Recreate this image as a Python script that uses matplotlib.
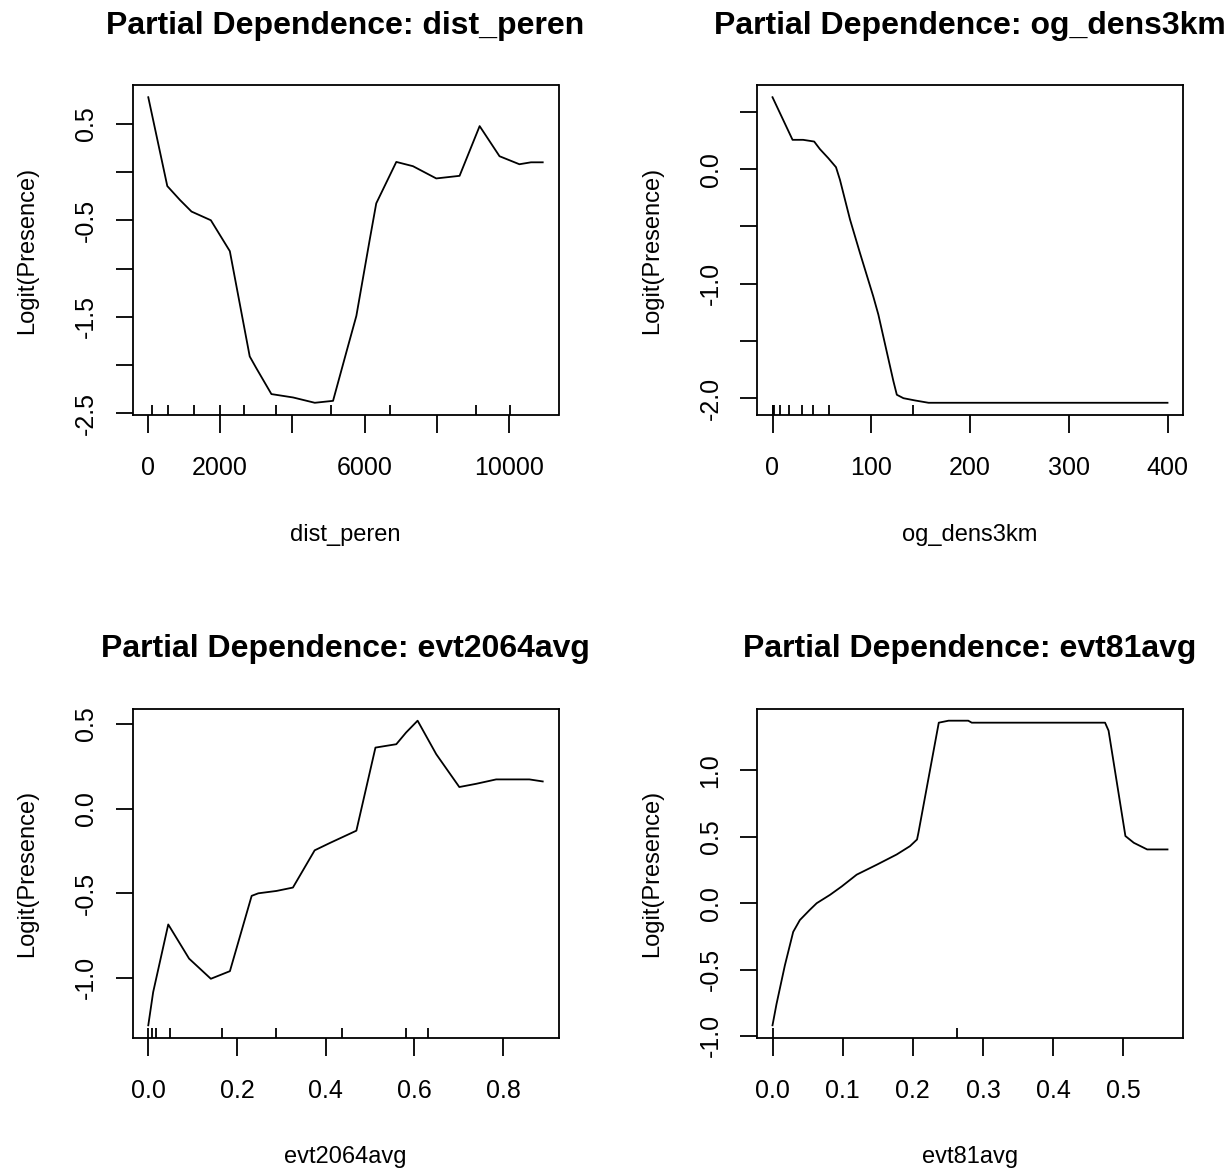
import matplotlib
matplotlib.use("Agg")
import matplotlib.pyplot as plt
import numpy as np

plt.rcParams['font.family'] = ['Liberation Sans', 'DejaVu Sans']
plt.rcParams['axes.unicode_minus'] = False

# ---- data ----
dist_x = [14, 540, 890, 1210, 1745, 2270, 2820, 3000, 3420, 4020, 4620, 5125,
          5490, 5770, 6140, 6320, 6875, 7335, 7980, 8625, 9180, 9730, 10280, 10600, 10925]
dist_y = [0.774, -0.146, -0.29, -0.41, -0.50, -0.82, -1.91, -2.03, -2.30, -2.335, -2.39, -2.37,
          -1.87, -1.49, -0.70, -0.325, 0.104, 0.06, -0.067, -0.04, 0.475, 0.163, 0.08, 0.10, 0.10]
dist_rug = [124, 550, 1276, 1994, 2666, 3560, 5080, 6690, 9085, 10025]
dist_xticks = [0, 2000, 4000, 6000, 8000, 10000]
dist_xlabels = ['0', '2000', '', '6000', '', '10000']
dist_yticks = [-2.5, -2.0, -1.5, -1.0, -0.5, 0.0, 0.5]
dist_ylabels = ['-2.5', '', '-1.5', '', '-0.5', '', '0.5']

og_x = [0, 20.3, 31, 42.2, 48, 56.5, 64.3, 68.3, 78.5, 88.6, 102, 107.2, 122.4, 125.9,
        132.6, 144.5, 158, 400]
og_y = [0.628, 0.256, 0.256, 0.241, 0.175, 0.096, 0.017, -0.093, -0.44, -0.733, -1.11,
        -1.27, -1.85, -1.97, -2.0, -2.02, -2.04, -2.04]
og_rug = [0, 1, 2, 8, 16.5, 30, 40.6, 57, 142]
og_xticks = [0, 100, 200, 300, 400]
og_xlabels = ['0', '100', '200', '300', '400']
og_yticks = [-2.0, -1.5, -1.0, -0.5, 0.0, 0.5]
og_ylabels = ['-2.0', '', '-1.0', '', '0.0', '']

e20_x = [0.0, 0.011, 0.045, 0.092, 0.141, 0.184, 0.233, 0.248, 0.289, 0.326, 0.375, 0.409,
         0.469, 0.512, 0.559, 0.581, 0.607, 0.649, 0.701, 0.739, 0.784, 0.859, 0.889]
e20_y = [-1.28, -1.084, -0.684, -0.886, -1.005, -0.96, -0.515, -0.50, -0.486, -0.466, -0.246,
         -0.203, -0.13, 0.361, 0.381, 0.45, 0.52, 0.322, 0.128, 0.147, 0.173, 0.173, 0.161]
e20_rug = [0, 0.0077, 0.0173, 0.049, 0.167, 0.287, 0.437, 0.581, 0.63]
e20_xticks = [0.0, 0.2, 0.4, 0.6, 0.8]
e20_xlabels = ['0.0', '0.2', '0.4', '0.6', '0.8']
e20_yticks = [-1.0, -0.5, 0.0, 0.5]
e20_ylabels = ['-1.0', '-0.5', '0.0', '0.5']

e81_x = [0.0, 0.0057, 0.0176, 0.0295, 0.039, 0.053, 0.063, 0.082, 0.0986, 0.12, 0.149, 0.177,
         0.196, 0.206, 0.208, 0.237, 0.251, 0.279, 0.284, 0.474, 0.479, 0.503, 0.515, 0.534, 0.563]
e81_y = [-0.92, -0.76, -0.469, -0.216, -0.127, -0.051, 0.0, 0.063, 0.126, 0.215, 0.291, 0.367,
         0.43, 0.48, 0.531, 1.36, 1.375, 1.375, 1.36, 1.36, 1.30, 0.506, 0.455, 0.405, 0.405]
e81_rug = [0, 0.263]
e81_xticks = [0.0, 0.1, 0.2, 0.3, 0.4, 0.5]
e81_xlabels = ['0.0', '0.1', '0.2', '0.3', '0.4', '0.5']
e81_yticks = [-1.0, -0.5, 0.0, 0.5, 1.0]
e81_ylabels = ['-1.0', '-0.5', '0.0', '0.5', '1.0']

panels = [
    ('dist_peren', dist_x, dist_y, dist_rug, dist_xticks, dist_xlabels, dist_yticks, dist_ylabels),
    ('og_dens3km', og_x, og_y, og_rug, og_xticks, og_xlabels, og_yticks, og_ylabels),
    ('evt2064avg', e20_x, e20_y, e20_rug, e20_xticks, e20_xlabels, e20_yticks, e20_ylabels),
    ('evt81avg', e81_x, e81_y, e81_rug, e81_xticks, e81_xlabels, e81_yticks, e81_ylabels),
]

W, H = 1231, 1170
fig = plt.figure(figsize=(W / 100, H / 100), dpi=100)

lefts = [132.5, 756.7]
widths = [426, 426.6]
tops = [85, 708.5]
heights = [330, 329]

LW = 1.3
for i, (name, x, y, rug, xt, xl, yt, yl) in enumerate(panels):
    col = i % 2
    row = i // 2
    l = lefts[col] / W
    b = 1 - (tops[row] + heights[row]) / H
    ax = fig.add_axes([l, b, widths[col] / W, heights[row] / H])
    ax.plot(x, y, color='black', lw=LW)
    xr = max(x) - min(x)
    yr = max(y) - min(y)
    ax.set_xlim(min(x) - 0.04 * xr, max(x) + 0.04 * xr)
    ax.set_ylim(min(y) - 0.04 * yr, max(y) + 0.04 * yr)
    ax.vlines(rug, 0, 0.03, transform=ax.get_xaxis_transform(), color='black', lw=LW)
    ax.set_xticks(xt)
    ax.set_xticklabels(xl)
    ax.set_yticks(yt)
    ax.set_yticklabels(yl, rotation=90, va='center')
    ax.tick_params(direction='out', length=12.6, width=LW, labelsize=18, color='black')
    ax.tick_params(axis='x', pad=17)
    ax.tick_params(axis='y', pad=12)
    for s in ax.spines.values():
        s.set_linewidth(LW)
    cx = (lefts[col] + widths[col] / 2) / W
    fig.text(cx, 1 - (tops[row] - 59) / H, 'Partial Dependence: ' + name,
             ha='center', va='center', fontsize=23, fontweight='bold')
    fig.text(cx, 1 - (tops[row] + heights[row] + 120) / H, name,
             ha='center', va='center', fontsize=17)
    fig.text((lefts[col] - 105) / W, 1 - (tops[row] + heights[row] / 2) / H, 'Logit(Presence)',
             ha='center', va='center', rotation=90, fontsize=17)

fig.savefig('out.png', dpi=100)
